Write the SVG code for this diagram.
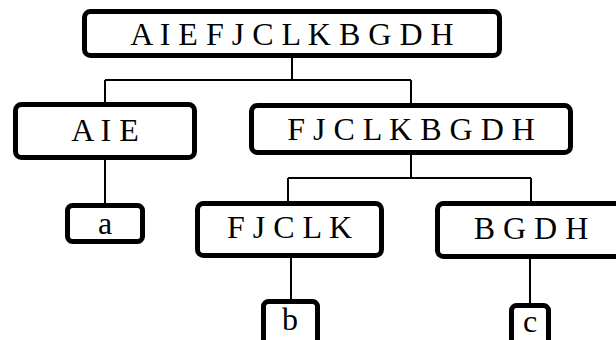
<svg xmlns="http://www.w3.org/2000/svg" width="616" height="340" viewBox="0 0 616 340">
<style>
.box{fill:#fff;stroke:#000;stroke-width:5}
.t{font-family:"Liberation Serif","Times New Roman",serif;font-size:32px;fill:#000;text-anchor:middle}
.c{fill:none;stroke:#000;stroke-width:2}
</style>
<rect width="616" height="340" fill="#fff"/>
<g id="connectors">
<path class="c" d="M292 58V80M105 80H411M105 80V102M411 80V103"/>
<path class="c" d="M105 160V203"/>
<path class="c" d="M411 155V178M288 178H531M288 178V201M531 178V201"/>
<path class="c" d="M291 258V299"/>
<path class="c" d="M530 259V303"/>
</g>
<g id="root"><rect class="box" x="84.5" y="11.5" width="415" height="44" rx="6"/><text class="t" x="292" y="45">A I E F J C L K B G D H</text></g>
<g id="aie"><rect class="box" x="15.5" y="104.5" width="179" height="53" rx="6"/><text class="t" x="105" y="141">A I E</text></g>
<g id="fjclkbgdh"><rect class="box" x="251.5" y="105.5" width="319" height="47" rx="6"/><text class="t" x="411" y="139.5">F J C L K B G D H</text></g>
<g id="a"><rect class="box" x="67.5" y="205.5" width="75" height="36" rx="5"/><text class="t" x="105" y="234">a</text></g>
<g id="fjclk"><rect class="box" x="197.5" y="203.5" width="184" height="52" rx="6"/><text class="t" x="289.5" y="238">F J C L K</text></g>
<g id="bgdh"><rect class="box" x="437.5" y="203.5" width="187" height="53" rx="6"/><text class="t" x="531" y="239">B G D H</text></g>
<g id="b"><rect class="box" x="263.5" y="301.5" width="54" height="50" rx="5"/><text class="t" x="290" y="330">b</text></g>
<g id="c"><rect class="box" x="511.5" y="305.5" width="37" height="45" rx="5"/><text class="t" x="530" y="332">c</text></g>
</svg>
